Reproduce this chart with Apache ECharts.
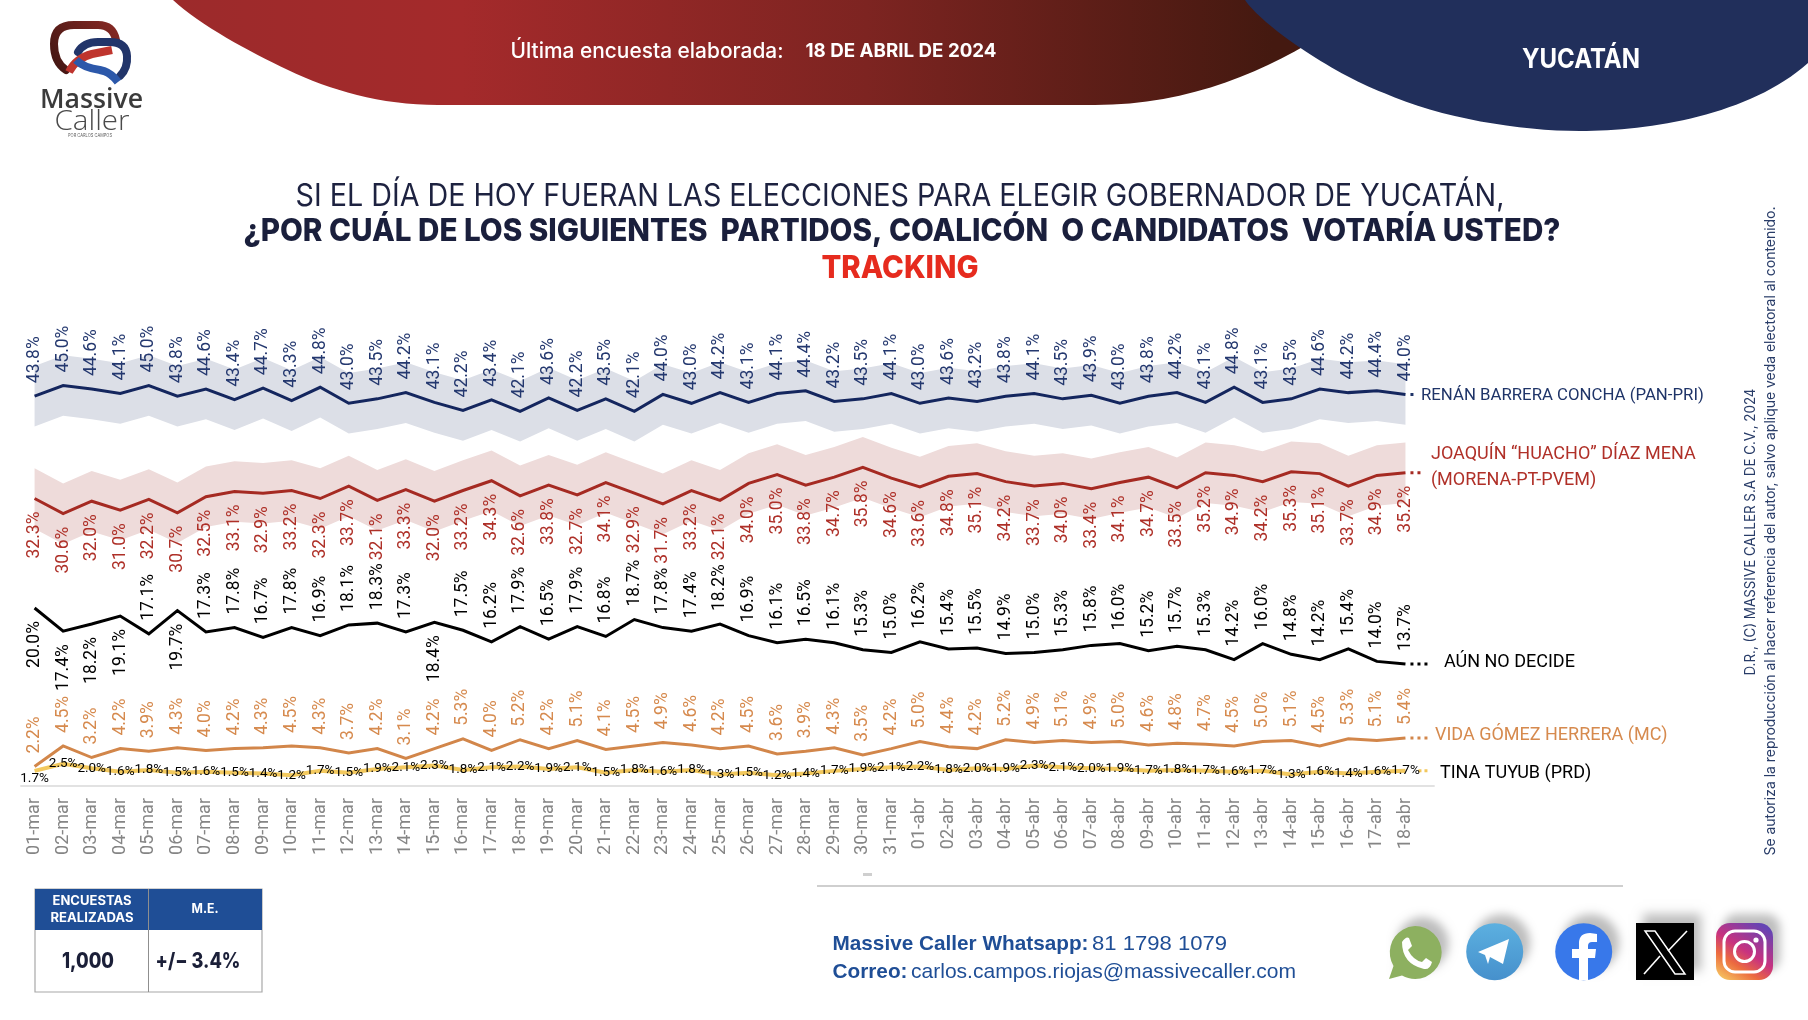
<!DOCTYPE html>
<html><head><meta charset="utf-8">
<style>html,body{margin:0;padding:0;background:#fff}#c{width:1808px;height:1020px}</style>
<script src="https://cdn.jsdelivr.net/npm/echarts@6/dist/echarts.min.js"></script>
</head><body><div id="c"></div>
<script>
const datesMar = ['01-mar','02-mar','03-mar','04-mar','05-mar','06-mar','07-mar','08-mar','09-mar','10-mar','11-mar','12-mar','13-mar','14-mar','15-mar','16-mar','17-mar','18-mar','19-mar','20-mar','21-mar','22-mar','23-mar','24-mar','25-mar','26-mar','27-mar','28-mar','29-mar','30-mar','31-mar'];
const datesAbr = ['01-abr','02-abr','03-abr','04-abr','05-abr','06-abr','07-abr','08-abr','09-abr','10-abr','11-abr','12-abr','13-abr','14-abr','15-abr','16-abr','17-abr','18-abr'];
const renan = [43.8,45.0,44.6,44.1,45.0,43.8,44.6,43.4,44.7,43.3,44.8,43.0,43.5,44.2,43.1,42.2,43.4,42.1,43.6,42.2,43.5,42.1,44.0,43.0,44.2,43.1,44.1,44.4,43.2,43.5,44.1,43.0,43.6,43.2,43.8,44.1,43.5,43.9,43.0,43.8,44.2,43.1,44.8,43.1,43.5,44.6,44.2,44.4,44.0];
const renanUpper = [47.2,48.4,48.0,47.5,48.4,47.2,48.0,46.8,48.1,46.7,48.2,46.4,46.9,47.6,46.5,45.6,46.8,45.5,47.0,45.6,46.9,45.5,47.4,46.4,47.6,46.5,47.5,47.8,46.6,46.9,47.5,46.4,47.0,46.6,47.2,47.5,46.9,47.3,46.4,47.2,47.6,46.5,48.2,46.5,46.9,48.0,47.6,47.8,47.4];
const renanLower = [40.4,41.6,41.2,40.7,41.6,40.4,41.2,40.0,41.3,39.9,41.4,39.6,40.1,40.8,39.7,38.8,40.0,38.7,40.2,38.8,40.1,38.7,40.6,39.6,40.8,39.7,40.7,41.0,39.8,40.1,40.7,39.6,40.2,39.8,40.4,40.7,40.1,40.5,39.6,40.4,40.8,39.7,41.4,39.7,40.1,41.2,40.8,41.0,40.6];
const joaquin = [32.3,30.6,32.0,31.0,32.2,30.7,32.5,33.1,32.9,33.2,32.3,33.7,32.1,33.3,32.0,33.2,34.3,32.6,33.8,32.7,34.1,32.9,31.7,33.2,32.1,34.0,35.0,33.8,34.7,35.8,34.6,33.6,34.8,35.1,34.2,33.7,34.0,33.4,34.1,34.7,33.5,35.2,34.9,34.2,35.3,35.1,33.7,34.9,35.2];
const joaquinUpper = [35.7,34.0,35.4,34.4,35.6,34.1,35.9,36.5,36.3,36.6,35.7,37.1,35.5,36.7,35.4,36.6,37.7,36.0,37.2,36.1,37.5,36.3,35.1,36.6,35.5,37.4,38.4,37.2,38.1,39.2,38.0,37.0,38.2,38.5,37.6,37.1,37.4,36.8,37.5,38.1,36.9,38.6,38.3,37.6,38.7,38.5,37.1,38.3,38.6];
const joaquinLower = [28.9,27.2,28.6,27.6,28.8,27.3,29.1,29.7,29.5,29.8,28.9,30.3,28.7,29.9,28.6,29.8,30.9,29.2,30.4,29.3,30.7,29.5,28.3,29.8,28.7,30.6,31.6,30.4,31.3,32.4,31.2,30.2,31.4,31.7,30.8,30.3,30.6,30.0,30.7,31.3,30.1,31.8,31.5,30.8,31.9,31.7,30.3,31.5,31.8];
const noDecide = [20.0,17.4,18.2,19.1,17.1,19.7,17.3,17.8,16.7,17.8,16.9,18.1,18.3,17.3,18.4,17.5,16.2,17.9,16.5,17.9,16.8,18.7,17.8,17.4,18.2,16.9,16.1,16.5,16.1,15.3,15.0,16.2,15.4,15.5,14.9,15.0,15.3,15.8,16.0,15.2,15.7,15.3,14.2,16.0,14.8,14.2,15.4,14.0,13.7];
const noDecideBelow = [0,1,2,3,5,14];
const vida = [2.2,4.5,3.2,4.2,3.9,4.3,4.0,4.2,4.3,4.5,4.3,3.7,4.2,3.1,4.2,5.3,4.0,5.2,4.2,5.1,4.1,4.5,4.9,4.6,4.2,4.5,3.6,3.9,4.3,3.5,4.2,5.0,4.4,4.2,5.2,4.9,5.1,4.9,5.0,4.6,4.8,4.7,4.5,5.0,5.1,4.5,5.3,5.1,5.4];
const tina = [1.7,2.5,2.0,1.6,1.8,1.5,1.6,1.5,1.4,1.2,1.7,1.5,1.9,2.1,2.3,1.8,2.1,2.2,1.9,2.1,1.5,1.8,1.6,1.8,1.3,1.5,1.2,1.4,1.7,1.9,2.1,2.2,1.8,2.0,1.9,2.3,2.1,2.0,1.9,1.7,1.8,1.7,1.6,1.7,1.3,1.6,1.4,1.6,1.7];

const dates = datesMar.concat(datesAbr);
const FONT = 'Roboto';
const pct = p => { const v = (p.value && p.value.value !== undefined) ? p.value.value : p.value; return Number(v).toFixed(1) + '%'; };
const cv = document.createElement('canvas').getContext('2d');

function T(text, x, y, size, weight, color, width, opt) {
  opt = opt || {};
  const family = opt.family || 'Inter';
  cv.font = weight + ' ' + size + 'px "' + family + '"';
  const s = width ? width / cv.measureText(text).width : 1;
  return { type:'text', x, y, rotation: opt.rot || 0, scaleX: s, z: 20, silent:true,
    style:{ text, fill: color, font: weight + ' ' + size + 'px "' + family + '"', align: opt.align || 'center', verticalAlign:'middle' } };
}
let pathId = 0;
function P(pathData, style, z) {
  const name = 'deco' + (pathId++);
  echarts.graphic.registerShape(name, echarts.graphic.extendPath(pathData, {}));
  return { type:name, z:z, silent:true, style };
}
const shadow = { shadowBlur: 10, shadowOffsetX: 7, shadowOffsetY: -9, shadowColor:'rgba(0,0,0,.26)' };

const graphicEls = [
  // header shapes
  P('M173 0 C200 25 250 52 288 70 C330 90 380 105 438 105 L1095 105 C1190 105 1270 70 1330 30 L1330 0 Z',
    { fill:{ type:'linear', x:0, y:0, x2:1, y2:0, colorStops:[{offset:0,color:'#9c2a2b'},{offset:.25,color:'#a42a2b'},{offset:.6,color:'#7d2421'},{offset:.95,color:'#441910'},{offset:1,color:'#441910'}] } }, 5),
  P('M1245 0 C1262 25 1330 72 1384 93 C1440 118 1520 131 1580 131 C1650 131 1750 115 1808 63 L1808 0 Z', { fill:'#212f5b' }, 6),
  T('Última encuesta elaborada:', 647, 52, 21, 500, '#fff', 273),
  T('18 DE ABRIL DE 2024', 901, 51, 19, 700, '#fff', 191),
  T('YUCATÁN', 1581, 60, 27, 700, '#fff', 118),
  // logo
  P('M66 70 Q54 62 54 44 Q54 25 74 25 L98 25 Q113 25 116 40', { fill:'none', stroke:{type:'linear',x:0,y:1,x2:1,y2:0,colorStops:[{offset:0,color:'#3d1512'},{offset:1,color:'#8a2a25'}]}, lineWidth:8, lineCap:'round' }, 7),
  P('M120 76 Q128 68 127 56 Q126 42 110 42 L98 42 Q84 42 78 52', { fill:'none', stroke:'#22356a', lineWidth:8, lineCap:'round' }, 8),
  P('M69 72 Q76 58 92 54 L112 50', { fill:'none', stroke:'#bf352e', lineWidth:8, lineCap:'butt' }, 9),
  P('M76 60 Q84 68 100 70 L104 71 Q112 74 118 82', { fill:'none', stroke:'#2c58aa', lineWidth:8, lineCap:'butt' }, 9),
  T('Massive', 91.5, 100, 27, 600, '#3b3b3b', 103, {family:'Open Sans'}),
  T('Caller', 92, 122, 27, 300, '#4a4a4a', 75, {family:'Open Sans'}),
  T('POR CARLOS CAMPOS', 90, 135, 5, 400, '#666', 44),
  // titles
  T('SI EL DÍA DE HOY FUERAN LAS ELECCIONES PARA ELEGIR GOBERNADOR DE YUCATÁN,', 900, 197, 31, 400, '#1d2240', 1209),
  T('¿POR CUÁL DE LOS SIGUIENTES  PARTIDOS, COALICÓN  O CANDIDATOS  VOTARÍA USTED?', 902, 232, 31, 800, '#1a1f3c', 1317),
  T('TRACKING', 900, 269, 31, 800, '#e62b1e', 157),
  // right-side legal text
  T('D.R., (C) MASSIVE CALLER S.A DE C.V., 2024', 1751, 532, 14, 400, '#283c68', 287, {rot:Math.PI/2}),
  T('Se autoriza la reproducción al hacer referencia del autor, salvo aplique veda electoral al contenido.', 1771, 531, 14, 400, '#283c68', 649, {rot:Math.PI/2}),
  // axis base line (stops short of the trailing guide space)
  { type:'line', z:3, silent:true, shape:{x1:20.3,y1:786,x2:1434.7,y2:786}, style:{ stroke:'#e2e2e2', lineWidth:2 } },
  { type:'rect', z:3, silent:true, shape:{x:863,y:873,width:9,height:3}, style:{ fill:'#cfcfcf' } },
  // table
  { type:'rect', z:10, silent:true, shape:{x:35,y:889,width:227,height:103}, style:{ fill:'#fff', stroke:'#a8a8a8', lineWidth:1.2 } },
  { type:'rect', z:11, silent:true, shape:{x:35,y:889,width:227,height:41}, style:{ fill:'#1f4e96' } },
  { type:'line', z:12, silent:true, shape:{x1:148.5,y1:889,x2:148.5,y2:992}, style:{ stroke:'#8f8f8f', lineWidth:1 } },
  T('ENCUESTAS', 92, 901, 13, 700, '#fff', 79),
  T('REALIZADAS', 92, 918, 13, 700, '#fff', 83),
  T('M.E.', 205, 909, 13, 700, '#fff', 27),
  T('1,000', 88, 962, 21, 800, '#1b1f38', 52),
  T('+/− 3.4%', 198, 962, 21, 800, '#1b1f38', 85),
  // contact
  { type:'line', z:10, silent:true, shape:{x1:817,y1:886,x2:1623,y2:886}, style:{ stroke:'#bfbfbf', lineWidth:1.5 } },
  T('Massive Caller Whatsapp:', 832.5, 944, 21, 700, '#1f4e96', 256, {family:'Liberation Sans', align:'left'}),
  T('81 1798 1079', 1092, 944, 21, 400, '#1f4e96', 135, {family:'Liberation Sans', align:'left'}),
  T('Correo:', 832.5, 972, 21, 700, '#1f4e96', 75, {family:'Liberation Sans', align:'left'}),
  T('carlos.campos.riojas@massivecaller.com', 911, 972, 21, 400, '#1f4e96', 385, {family:'Liberation Sans', align:'left'}),
  // social icons
  P('M1415 926 A26.5 26.5 0 1 1 1402 975.5 L1389 979 L1393.5 966 A26.5 26.5 0 0 1 1415 926 Z', Object.assign({ fill:'#8db060' }, shadow), 10),
  P('M1402 942 Q1406 936 1409 938 L1412 946 L1408 950 Q1413 960 1422 962 L1426 958 L1432 962 Q1430 970 1424 969 Q1402 964 1402 942 Z', { fill:'#fff' }, 11),
  { type:'circle', z:10, silent:true, shape:{cx:1494.7,cy:951.7,r:28.5}, style:Object.assign({ fill:{type:'linear',x:0,y:0,x2:0,y2:1,colorStops:[{offset:0,color:'#5cb0e0'},{offset:1,color:'#4690cc'}]} }, shadow) },
  P('M1478 952 L1509 939 L1503 964 L1490 957 L1488 964 L1485 955 Z', { fill:'#fff' }, 11),
  { type:'circle', z:10, silent:true, shape:{cx:1583.7,cy:951.7,r:28.5}, style:Object.assign({ fill:'#3878ea' }, shadow) },
  P('M1579 980 L1579 958 L1572 958 L1572 949 L1579 949 L1579 943 Q1579 933 1590 933 L1597 934 L1597 942 L1592 942 Q1588 942 1588 946 L1588 949 L1596 949 L1595 958 L1588 958 L1588 980 Z', { fill:'#fff' }, 11),
  { type:'rect', z:10, silent:true, shape:{x:1636,y:923,width:58,height:57}, style:Object.assign({ fill:'#000' }, shadow) },
  P('M1645 931 L1655 931 L1685 974 L1675 974 Z', { fill:'none', stroke:'#fff', lineWidth:1.5 }, 11),
  { type:'line', z:11, silent:true, shape:{x1:1687,y1:931,x2:1668,y2:951}, style:{ stroke:'#fff', lineWidth:1.6 } },
  { type:'line', z:11, silent:true, shape:{x1:1660,y1:956,x2:1644,y2:974}, style:{ stroke:'#fff', lineWidth:1.6 } },
  { type:'rect', z:10, silent:true, shape:{x:1716,y:923,width:57,height:57,r:14}, style:Object.assign({ fill:{type:'linear',x:0.1,y:1,x2:0.75,y2:0,colorStops:[{offset:0,color:'#f6c862'},{offset:.3,color:'#ec6b3f'},{offset:.55,color:'#c8327f'},{offset:1,color:'#6544b4'}]} }, shadow) },
  { type:'rect', z:11, silent:true, shape:{x:1724,y:931,width:41,height:41,r:11}, style:{ fill:'none', stroke:'#fff', lineWidth:3 } },
  { type:'circle', z:11, silent:true, shape:{cx:1744.5,cy:951.5,r:10}, style:{ fill:'none', stroke:'#fff', lineWidth:3 } },
  { type:'circle', z:11, silent:true, shape:{cx:1756,cy:940,r:2.6}, style:{ fill:'#fff' } }
];

function band(name, lower, upper, color) {
  const base = { type:'line', symbol:'none', stack:name, silent:true, lineStyle:{opacity:0}, z:1 };
  return [
    Object.assign({}, base, { name:name+' inf', data:lower }),
    Object.assign({}, base, { name:name+' sup', data:upper.map((u,i)=>+(u-lower[i]).toFixed(1)), areaStyle:{ color, opacity:1 } })
  ];
}
function leader(name, values, color, dash) {
  const d = values.map(()=>null); d[values.length-1]=values[values.length-1]; d.push(values[values.length-1]);
  return { name:name+' guía', type:'line', symbol:'none', silent:true, data:d, z:2, lineStyle:{ color, width:3, type:dash } };
}
function main(name, data, color, textColor, labelOpt, endText, endColor, endOffset, endExtra) {
  return { name, type:'line', data, symbol:'circle', symbolSize:0, showSymbol:true, showAllSymbol:true, z:4,
    lineStyle:{ color, width:3, cap:'butt', join:'miter' }, itemStyle:{ color },
    label: Object.assign({ show:true, formatter:pct, fontFamily:FONT, fontSize:17.5, color:textColor, rotate:90, position:'top', align:'left', verticalAlign:'middle', distance:13 }, labelOpt),
    endLabel:Object.assign({ show:true, formatter:()=>endText, fontFamily:FONT, fontSize:18, color:endColor, align:'left', verticalAlign:'middle', distance:0, offset:endOffset }, endExtra||{}),
    labelLayout:{ hideOverlap:false }
  };
}
const below = { position:'bottom', align:'right', verticalAlign:'middle', rotate:90 };

const noDecideData = noDecide.map((v,i)=> noDecideBelow.includes(i) ? { value:v, label:below } : v);
const tinaData = tina.map((v,i)=> i===0 ? { value:v, label:{ position:'bottom', distance:1, align:'center', verticalAlign:'top', rotate:0 } } : v);

const option = {
  animation:false, backgroundColor:'#fff',
  grid:{ left:20.3, width:1428, top:341, height:445, containLabel:false },
  xAxis:{ type:'category', boundaryGap:true, data:dates.concat(['']),
    axisLine:{ show:false }, axisTick:{show:false},
    axisLabel:{ interval:0, rotate:90, color:'#858585', fontFamily:FONT, fontSize:18, margin:12 } },
  yAxis:{ type:'value', min:0, max:50, show:false, splitLine:{show:false} },
  series:[
    ...band('Renán', renanLower, renanUpper, '#dcdfe7'),
    ...band('Joaquín', joaquinLower, joaquinUpper, '#eedbda'),
    leader('Renán', renan, '#1f3468', [0,5,3,200]),
    leader('Joaquín', joaquin, '#a52a22', [0,5,3,4,3,200]),
    leader('No decide', noDecide, '#000', [0,5,3,4,3,4,3,200]),
    leader('Vida', vida, '#d2864a', [0,5,3,4,3,4,3,200]),
    leader('Tina', tina, '#f2c75c', [0,13,3,3,3,200]),
    main('RENÁN BARRERA CONCHA (PAN-PRI)', renan, '#14265e', '#24386f', {}, 'RENÁN BARRERA CONCHA (PAN-PRI)', '#1f3468', [15.5,1], {fontSize:16.8}),
    main('JOAQUÍN “HUACHO” DÍAZ MENA (MORENA-PT-PVEM)', joaquin, '#a52a22', '#ae3028', below, 'JOAQUÍN “HUACHO” DÍAZ MENA\n(MORENA-PT-PVEM)', '#b03028', [25.5,-5], {lineHeight:26}),
    main('AÚN NO DECIDE', noDecideData, '#000', '#000', {}, 'AÚN NO DECIDE', '#000', [38.5,-2]),
    main('VIDA GÓMEZ HERRERA (MC)', vida, '#d2864a', '#d68a4e', {}, 'VIDA GÓMEZ HERRERA (MC)', '#d68a4e', [29.5,-2]),
    Object.assign(main('TINA TUYUB (PRD)', tinaData, '#f3c95e', '#000', { rotate:0, position:'inside', align:'center', verticalAlign:'middle', distance:0, fontFamily:FONT, fontSize:13.5 }, 'TINA TUYUB (PRD)', '#000', [34.5,3]), { z:3 })
  ],
  graphic:{ elements: graphicEls }
};
option.series[option.series.length-1].lineStyle.width = 4;
const chart = echarts.init(document.getElementById('c'), null, { renderer:'canvas', width:1808, height:1020 });
chart.setOption(option);
</script></body></html>
